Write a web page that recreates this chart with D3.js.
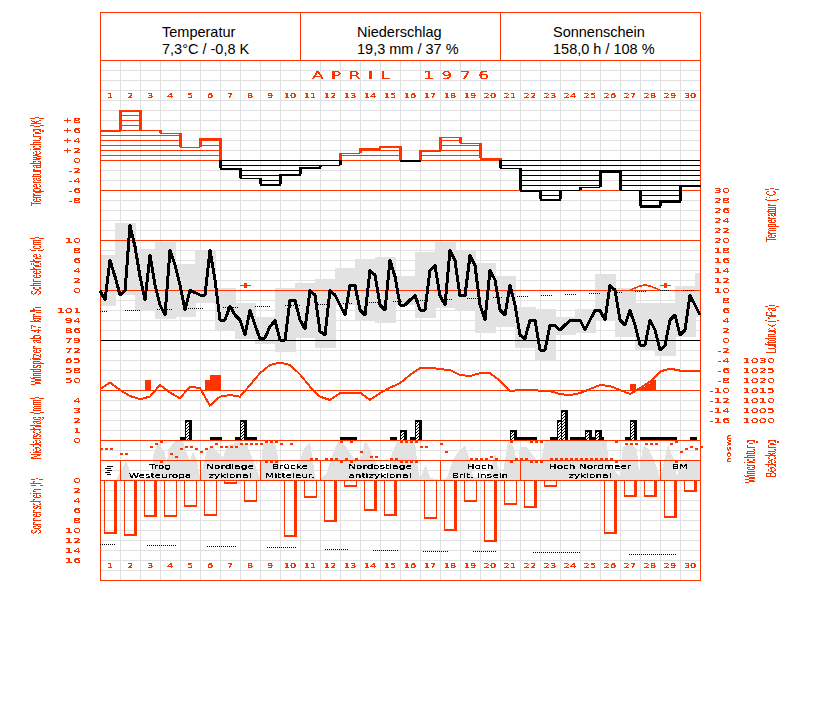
<!DOCTYPE html>
<html><head><meta charset="utf-8">
<script src="https://cdn.jsdelivr.net/npm/d3@7"></script>
<style>html,body{margin:0;padding:0;background:#fff}svg{display:block}</style>
</head><body><svg id="c" width="827" height="702"></svg>
<script>
// ---- data ----
const days = d3.range(1, 31);
const tempDeviation = [6,10,6,5.5,2.6,4.4,-1.6,-3.6,-4.8,-2.8,-1.4,-1,1.4,2.4,2.8,0,2,4.6,3.5,0.4,-1.6,-6,-7.8,-6,-5.4,-2.2,-6,-9.1,-8.2,-5];
const tempMax = [17,23.4,18.2,19.6,15.2,17.8,10.4,7.4,4.6,10.4,11.4,12.2,14.4,16.2,16.6,12.8,17.6,19.6,17.8,15.4,12.8,6.6,6.2,4.6,6.2,13.2,10.4,7.4,7.4,10.8,13.4];
const tempMin = [6.9,9,5.8,4.2,4.6,7.4,2,0.2,-0.8,-2.4,0.4,-1.6,7,4,3.4,7,4.4,6.4,6,1.4,2.6,-1.6,-4,1,1.4,3.8,0.6,-2,-3.2,0.6,4.6];
const temp6h = [9.9,8,15.9,12.7,9,9.8,22.9,18.7,12.7,8,16.9,11,7,5,17.9,15,11,6,9.9,9.5,9,9,17.9,12,4,4,6.8,5,4,1,5.9,3,0.2,0.4,2.7,3.9,0,0,7.9,7.9,
  4,2.2,9.9,9,1.7,1,9.9,9,7,5,10.9,10.9,6,5,13.9,13,7,6,15.9,12.7,7,7,8,8.9,6,6,13.9,14.9,8.9,7,17.9,15.9,8.9,8.9,16.9,14.9,7,4,13.9,12,
  6,5,10.9,7,1,0.2,4,4,-2,-2,2.9,2.9,2,3,3.9,4,4,2,4,5.9,5.9,4,10.9,10,4,3,5.9,3,-1,-1,4,2,-2,-1.1,4,5,1,2,8.9,7,5];
const normalSegStart = [100,125,157,188,223,255,285,318,343,369,393,418,443,467,493,517,541,565,589,615,635,660,683];
const normalSegEnd   = [108,140,172,204,238,270,300,330,353,379,403,428,453,478,503,528,552,576,600,622,646,670,694];
const normalTemp = [5.8,6,6.2,6.4,6.6,6.8,7,7.2,7.4,7.6,7.8,8,8.2,8.4,8.6,8.8,9,9.2,9.4,9.6,9.8,10,10.1];
const snowDays = [8,29];
const snowDepth = [1,1];
const snowCurveDay = [26.5,27,27.25,27.5,27.75,28];
const snowCurve = [0,0.8,1,0.8,0.4,0];
const pressure12h = [1015.5,1018.7,1015,1012,1010.4,1011.7,1017.5,1013.7,1010.9,1016.7,1015.9,1007.2,1011.7,1012.5,1011.7,1017.5,1023.4,1027.5,1028.7,1027.5,1022.8,
  1016.7,1011.7,1010,1013.4,1013.7,1013.7,1010,1013.4,1016.2,1018.4,1022.5,1025.9,1026.2,1025.4,1025,1022.5,1022,1023.4,1023.4,1019.7,
  1014.5,1015,1015,1014.7,1014.5,1012.9,1012.5,1013.4,1015.5,1017.5,1017,1015,1013,1015.9,1019.2,1024.2,1025.7,1024.7,1024.7,1024.5];
const gustSample = [9,21,22,23,106,108,109,110];
const gustKmh = [50,50,54,54,47,45,47,50];
const precipStart = [16,17,22,27,28,29.4,48,58,60,62,63,82,83.4,90,91.4,92.2,94,95.4,97,97.8,99,99.8,105,106,108,118];
const precipSteps = [1,1.4,2.4,1,1.4,2,3.4,1.4,1.4,1,1.4,1.4,4,1.6,1.4,1.4,1.4,2.6,1.4,1.4,1.4,1,1,1.4,7.4,1.4];
const precipMm = [0.3,2,0.3,0.3,2,0.3,0.3,0.3,1,0.3,2,1,0.3,0.3,2,3,0.3,0.3,1,0.3,1,0.3,0.3,2,0.3,0.3];
const sunshine = [10.6,10.9,7.1,7.1,5.1,6.9,0.5,4.1,0,11.1,3.3,8.1,1.2,5.9,6.9,0,7.5,9.9,4.1,12.1,4.7,5.3,1.1,0,0,10.5,3.1,3.1,7.3,2.1];
const sunNormStart = [100,147,207,267,325,373,423,473,533,629];
const sunNormEnd   = [116,176,236,296,348,398,448,496,580,676];
const sunNorm = [12.8,13,13.2,13.4,13.7,13.9,14.1,14.2,14.4,14.7];
const windSample = [0,1,2,4,5,10,11,12,14,15,16,17,18,19,20,21,22,23,24,25,26,27,28,29,30,31,32,33,34,35,36,38,
  42,43,45,46,47,48,49,50,51,52,54,55,58,59,60,61,62,63,64,65,68,69,74,75,76,77,78,79,82,83,84,85,86,87,88,
  90,91,92,93,94,95,96,97,98,99,100,101,102,103,105,106,107,109,110,111,114,115,116,117,118,119,120];
const windDir = [130,130,130,220,220,90,40,0,220,270,130,90,90,130,180,130,90,40,90,90,90,90,40,40,40,40,40,0,0,0,40,40,
  305,305,305,305,305,0,305,0,305,180,270,270,305,305,0,0,0,0,90,90,40,180,305,305,305,305,270,305,0,305,305,305,0,0,0,
  305,305,305,305,305,305,305,305,305,305,305,305,305,0,40,40,40,40,40,40,40,0,180,130,90,130,90];
const cloudX = [100,116,126,133,152,153,158,165,167,168,175,183,188,190,193,197,200,207,212,218,223,228,240,247,253,260,263,275,278,280,287,300,305,310,313,315,320,327,333,338,345,355,360,365,368,375,380,387,392,397,415,418,420,426,430,440,447,453,458,465,470,473,482,488,495,498,502,508,513,518,520,527,540,545,580,607,608,615,620,623,630,637,639,643,648,655,660,668,675,677,680,700];
const cloudTop = [480,480,461,479,478,457,442,453,467,450,441,441,457,460,452,460,478,450,445,453,457,445,442,445,460,478,443,442,457,470,478,460,447,443,460,478,480,472,453,442,445,460,462,441,445,460,478,477,453,442,442,470,478,465,478,480,478,460,452,445,460,477,477,477,453,467,478,442,445,465,447,447,465,441,441,441,460,472,476,447,443,450,473,447,448,462,478,445,462,478,462,460];
const typeBreaks = [120,200,260,320,440,520,660];
const typeCenters = [160,230,290,380,480,590,680];
const typeLine1 = ["Trog","Nordlage","Brücke","Nordostlage","Hoch","Hoch Nordmeer","BM"];
const typeLine2 = ["Westeuropa","zyklonal","Mitteleur.","antizyklonal","Brit. Inseln","zyklonal",""];
const headerTitles = ["Temperatur","Niederschlag","Sonnenschein"];
const headerValues = ["7,3°C / -0,8 K","19,3 mm / 37 %","158,0 h / 108 %"];
const devTicks = ["+8","+6","+4","+2","0","-2","-4","-6","-8"];
const snowTicks = [10,8,6,4,2,0];
const windTicks = [101,94,86,79,72,65,58,50];
const precipTicks = [4,3,2,1,0];
const sunTicks = [0,2,4,6,8,10,12,14,16];
const tempTicks = d3.range(30,-17,-2);
const pressTicks = [1030,1025,1020,1015,1010,1005,1000];
const windLetters = ["n","w","s","o","n"];

// ---- scales ----
const RED="#ff3300", GREY="#e2e2e2";
const X = d3.scaleLinear().domain([0,30]).range([100,700]);       // days since start of month
const S6 = d3.scaleLinear().domain([0,120]).range([100,700]);     // 6-hour samples
const yDev = d3.scaleLinear().domain([0,1]).range([160,155]);
const yT = d3.scaleLinear().domain([0,30]).range([340,190]);
const ySnow = d3.scaleLinear().domain([0,10]).range([290,240]);
const yP = d3.scaleLinear().domain([1000,1030]).range([420,360]);
const yWind = d3.scaleLinear().domain([50,101]).range([380,310]);
const yRain = d3.scaleLinear().domain([0,4]).range([440,400]);
const ySun = d3.scaleLinear().domain([0,16]).range([480,560]);
const yDir = d3.scaleLinear().domain([0,360]).range([441,461]);
const yCloud = d3.scaleLinear().domain([480,440]).range([480,440]);

const svg = d3.select("#c");
const defs = svg.append("defs");
[["px","0 1 1"],["pxthin","0 0 1 1 1"]].forEach(([id,tv])=>{
  const f = defs.append("filter").attr("id",id).attr("x","-10%").attr("y","-10%").attr("width","120%").attr("height","120%").attr("color-interpolation-filters","sRGB");
  f.append("feComponentTransfer").append("feFuncA").attr("type","discrete").attr("tableValues",tv);
});
const pat = defs.append("pattern").attr("id","hatch").attr("width",3).attr("height",3).attr("patternUnits","userSpaceOnUse");
pat.append("rect").attr("width",3).attr("height",3).attr("fill","#fff");
pat.append("rect").attr("x",0).attr("y",2).attr("width",1).attr("height",1).attr("fill","#000");
pat.append("rect").attr("x",1).attr("y",1).attr("width",1).attr("height",1).attr("fill","#000");
pat.append("rect").attr("x",2).attr("y",0).attr("width",1).attr("height",1).attr("fill","#000");
const clip = defs.append("clipPath").attr("id","plot");
clip.append("rect").attr("x",100).attr("y",60).attr("width",600).attr("height",520);

const crisp = svg.append("g").attr("shape-rendering","crispEdges");
const hl=(g,x1,x2,y,c,w=1)=>g.append("line").attr("x1",x1).attr("x2",x2).attr("y1",y).attr("y2",y).attr("stroke",c).attr("stroke-width",w);
const vl=(g,x,y1,y2,c,w=1)=>g.append("line").attr("x1",x).attr("x2",x).attr("y1",y1).attr("y2",y2).attr("stroke",c).attr("stroke-width",w);

// grid
const grid = crisp.append("g");
d3.range(70,580,10).forEach(y=>hl(grid,100,700,y+.5,"#e0e0e0"));
d3.range(1,30).forEach(d=>vl(grid,X(d)+.5,60,580,"#e0e0e0"));

// temperature range bars (offset 5 px before day, clipped at frame)
const plot = crisp.append("g").attr("clip-path","url(#plot)");
tempMax.forEach((m,i)=>plot.append("rect").attr("x",X(i)-5).attr("width",21).attr("y",yT(m)).attr("height",yT(tempMin[i])-yT(m)).attr("fill",GREY));

// cloud cover area
plot.append("path").attr("fill",GREY).attr("d",
  d3.area().x((d,i)=>cloudX[i]).y0(480).y1(d=>yCloud(d))(cloudTop));

// weather type band
const band = crisp.append("g");
typeBreaks.forEach(x=>vl(band,x+.5,460,480,RED));

// frame & reference lines
[190,240,290,390,440,460,480].forEach(y=>hl(crisp,100,700,y+.5,RED));
hl(crisp,100,700,340.5,"#000");
hl(crisp,100,700,60.5,RED);
vl(crisp,300.5,12,60,RED);
vl(crisp,500.5,12,60,RED);
crisp.append("rect").attr("x",100.5).attr("y",12.5).attr("width",600).attr("height",568).attr("fill","none").attr("stroke",RED);

// temperature deviation
const thinTops = new Set([3,4,5,8,12,13,18,19,21,24,25,27]);
const dev = crisp.append("g");
tempDeviation.forEach((v,i)=>{
  const c = v>0?RED:"#000", n=Math.floor(Math.abs(v));
  for(let k=0;k<=n;k++){ hl(dev,X(i),X(i+1),yDev(Math.sign(v)*k)+.5,c); }
});
tempDeviation.forEach((v,i)=>{
  const c = v>0?RED:"#000", w=thinTops.has(i+1)?1:2;
  hl(dev,X(i),X(i+1)+(w==2?1:0),Math.round(yDev(v))+.5,c,w);
  if(i<29){
    const nxt=tempDeviation[i+1];
    if(v*nxt<0){
      vl(dev,X(i+1)+.5,yDev(v),yDev(0),c,3);
      vl(dev,X(i+1)+.5,yDev(0),yDev(nxt),nxt>0?RED:"#000",3);
    } else if(nxt==0||v==0){
      vl(dev,X(i+1)+.5,yDev(v),yDev(nxt),v==0?(nxt>0?RED:"#000"):c,3);
    } else vl(dev,X(i+1)+.5,yDev(v),yDev(nxt),c,3);
  }
});

// dotted climatological lines
const dot = crisp.append("g").attr("stroke","#000").attr("stroke-dasharray","1 1");
normalTemp.forEach((t,i)=>hl(dot,normalSegStart[i],normalSegEnd[i],Math.round(yT(t))+.5,"#000"));
sunNorm.forEach((v,i)=>hl(dot,sunNormStart[i],sunNormEnd[i],Math.round(ySun(v))+.5,"#000"));

// gusts
gustSample.forEach((s,i)=>crisp.append("rect").attr("x",S6(s)).attr("width",S6(1)-S6(0)+1).attr("y",yWind(gustKmh[i])).attr("height",390-yWind(gustKmh[i])).attr("fill",RED));

// snow
snowDays.forEach((d,i)=>{
  hl(crisp,X(d-1),X(d-1)+11,ySnow(snowDepth[i])+.5,RED);
  crisp.append("rect").attr("x",X(d-1)+4).attr("y",ySnow(snowDepth[i])-2).attr("width",3).attr("height",5).attr("fill",RED);
});

// curves
const curves = svg.append("g").attr("fill","none").attr("shape-rendering","crispEdges");
const lineS = d3.line().x(d=>d[0]).y(d=>d[1]);
curves.append("path").attr("stroke",RED).attr("stroke-width",1.6).attr("d",
  lineS(snowCurve.map((v,i)=>[X(snowCurveDay[i]),ySnow(v)])));
curves.append("path").attr("stroke",RED).attr("stroke-width",2).attr("d",
  lineS(pressure12h.map((p,i)=>[S6(i*2),yP(p)])));
curves.append("path").attr("stroke","#000").attr("stroke-width",3).attr("stroke-linejoin","round").attr("d",
  lineS(temp6h.map((t,i)=>[S6(i),yT(t)])));

// precipitation
const rain = crisp.append("g");
precipMm.forEach((v,i)=>{
  const x0=Math.round(S6(precipStart[i])), w=Math.round(S6(precipSteps[i])-S6(0)), y=Math.round(yRain(v));
  if(v<0.5){ rain.append("rect").attr("x",x0).attr("y",y).attr("width",w).attr("height",440-y).attr("fill","#000"); return; }
  rain.append("rect").attr("x",x0).attr("y",y).attr("width",w).attr("height",440-y).attr("fill","url(#hatch)");
  rain.append("rect").attr("x",x0).attr("y",y).attr("width",1).attr("height",440-y).attr("fill","#000");
  rain.append("rect").attr("x",x0).attr("y",y).attr("width",w).attr("height",2).attr("fill","#000");
  rain.append("rect").attr("x",x0+w-3).attr("y",y).attr("width",3).attr("height",440-y).attr("fill","#000");
});
hl(crisp,100,700,440.5,RED);

// wind direction dashes (north is drawn at both ends of the scale)
const wd = crisp.append("g").attr("fill",RED);
windDir.forEach((d,i)=>{
  const x=S6(windSample[i]);
  (d===0?[0,360]:[d]).forEach(v=>wd.append("rect").attr("x",x).attr("y",Math.round(yDir(v))).attr("width",3).attr("height",2));
});

// sunshine bars
const thickRight = new Set([1,2,3,10,12,14,15,18,20,22,26,27,28,29,30]);
const sun = crisp.append("g");
sunshine.forEach((v,i)=>{
  if(!v) return;
  const x0=X(i)+4, w=13, y=Math.round(ySun(v));
  sun.append("rect").attr("x",x0+.5).attr("y",480).attr("width",w-1).attr("height",y-480).attr("fill","none").attr("stroke",RED);
  const t=thickRight.has(i+1)?3:1;
  sun.append("rect").attr("x",x0+w-t).attr("y",480).attr("width",t).attr("height",y-480+1).attr("fill",RED);
  sun.append("rect").attr("x",x0).attr("y",y-1).attr("width",w).attr("height",2).attr("fill",RED);
});

// weather symbol in first cell
const sym = crisp.append("g").attr("stroke","#000");
[466,468,470,472,474].forEach((y,i)=>hl(sym,105+(i%2?0:2),113-(i%2?2:0)-i/2,y+.5,"#000"));

// ---- text ----
const text = svg.append("g").attr("filter","url(#px)").attr("font-family","'DejaVu Sans'");
function bit(x,y,s,o={}){
  const t=text.append("text").attr("transform",`translate(${x},${y}) scale(${o.sx||1.5},1)`)
    .attr("font-size",o.fs||7.5).attr("fill",o.c||RED).attr("text-anchor",o.a||"middle").text(s);
  if(o.ls) t.attr("letter-spacing",o.ls).attr("xml:space","preserve");
  return t;
}
days.forEach((d,i)=>{
  bit(X(i)+10,98,d,{fs:7,sx:1.4,a:"middle"});
  bit(X(i)+10,568,d,{fs:7,sx:1.4,a:"middle"});
});
devTicks.forEach((t,i)=>bit(81,123+i*10,t,{a:"end",sx:1.7}));
snowTicks.forEach((t,i)=>bit(81,ySnow(t)+3,t,{a:"end",sx:1.7}));
windTicks.forEach((t,i)=>bit(81,310+i*10+3,t,{a:"end",sx:1.7}));
precipTicks.forEach(t=>bit(81,yRain(t)+3,t,{a:"end",sx:1.7}));
sunTicks.forEach(t=>bit(81,ySun(t)+3,t,{a:"end",sx:1.7}));
tempTicks.forEach(t=>bit(730,yT(t)+3,t,{a:"end",sx:1.7}));
pressTicks.forEach(t=>bit(775,yP(t)+3,t,{a:"end",sx:1.7}));
windLetters.forEach((l,i)=>text.append("text").attr("transform",`translate(731,${[440,446,451,457,463][i]}) rotate(-90) scale(1.2,1)`)
  .attr("font-size",7).attr("fill",RED).text(l));
typeCenters.forEach((x,i)=>{
  bit(x,469,typeLine1[i],{c:"#000",fs:7,sx:1.5});
  if(typeLine2[i]) bit(x,477.5,typeLine2[i],{c:"#000",fs:7,sx:1.5});
});
bit(312,79,"APRIL  1976",{a:"start",fs:10,sx:1.7,ls:"4.4"});

// rotated narrow labels
const rotLabels = [
  ["Temperaturabweichung (K)",41,206,89],
  ["Schneehöhe (cm)",41,295,58],
  ["Windspitzen ab 47 km/h",41,385,78],
  ["Niederschlag (mm)",41,459,62],
  ["Sonnenschein (h)",41,534,56],
  ["Temperatur (°C)",776,242,54],
  ["Luftdruck (hPa)",776,353,48],
  ["Windrichtung",755,483,43],
  ["Bedeckung",776,477,37]
];
const rot = svg.append("g").attr("filter","url(#pxthin)").attr("font-family","'Liberation Sans'");
rotLabels.forEach(([s,x,y,len])=>rot.append("text").attr("transform",`translate(${x},${y}) rotate(-90)`)
  .attr("font-size",14).attr("fill",RED).attr("textLength",len).attr("lengthAdjust","spacingAndGlyphs").text(s));

// header (plain smooth text)
const head = svg.append("g").attr("font-family","'Liberation Sans'").attr("font-size",14.5).attr("fill","#000");
[162,357,553].forEach((x,i)=>{
  head.append("text").attr("x",x).attr("y",37).text(headerTitles[i]);
  head.append("text").attr("x",x).attr("y",54).text(headerValues[i]);
});
</script></body></html>
